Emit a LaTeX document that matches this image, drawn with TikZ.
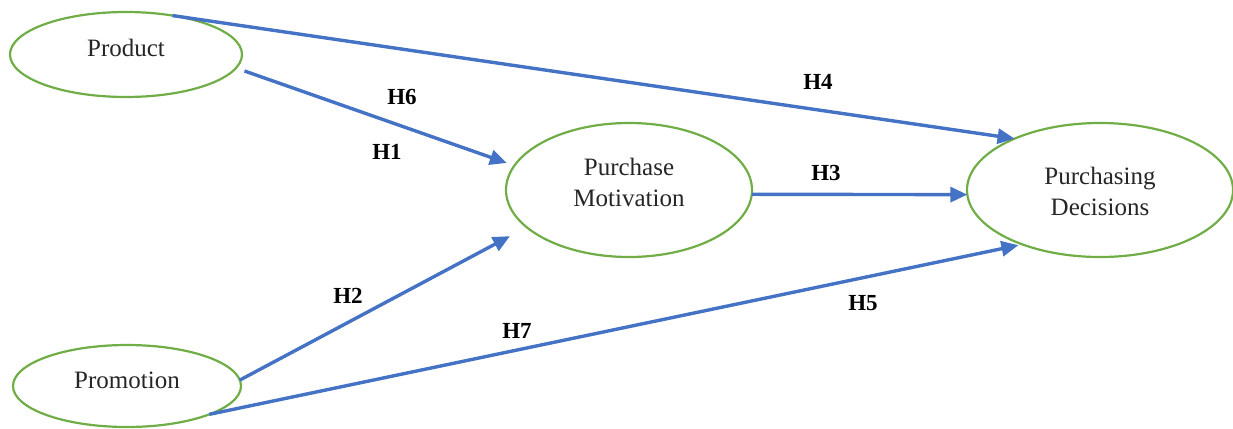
\documentclass[tikz,border=0pt]{standalone}
\usepackage{fontspec}
\setmainfont{Liberation Serif}
\usetikzlibrary{shapes.geometric,arrows.meta}
\definecolor{vgreen}{HTML}{70AD47}
\definecolor{vblue}{HTML}{4472C4}
\tikzset{
  var/.style={ellipse, draw=vgreen, line width=2.2pt, inner sep=0pt, outer sep=0pt},
  vtext/.style={align=center, inner sep=0pt, text=black!85, font=\fontsize{25}{31}\selectfont},
  hyp/.style={draw=vblue, line width=3.4pt, -{Triangle[length=17pt,width=15pt]}},
  lab/.style={inner sep=0pt, font=\bfseries\fontsize{23}{23}\selectfont}
}
\begin{document}
\begin{tikzpicture}[x=1pt,y=-1pt]
\useasboundingbox (0,0) rectangle (1233,428);
% variables
\node[var, minimum width=232pt, minimum height=85pt] (prod) at (126,54.5) {};
\node[var, minimum width=228pt, minimum height=82pt] (prom) at (127,386) {};
\node[var, minimum width=246pt, minimum height=134pt] (pm) at (629,190) {};
\node[var, minimum width=266pt, minimum height=134pt] (pd) at (1100,190) {};
\node[vtext] (prodt) at (126,48) {Product};
\node[vtext] (promt) at (127,380) {Promotion};
\node[vtext] (pmt) at (629,182) {Purchase\\Motivation};
\node[vtext] (pdt) at (1100,191) {Purchasing\\Decisions};
% connectors
\draw[hyp] (prod.40.6) -- (pd.149.8);
\draw[hyp, shorten <=9pt, shorten >=8pt] (prod.-7.4) -- (pm.168.6);
\draw[hyp] (pm.-2.4) -- (pd.182);
\draw[hyp, shorten >=19pt] (prom.3) -- (pm.200.6);
\draw[hyp, shorten >=4pt] (prom.-19.7) -- (pd.215.7);
% labels
\node[lab] (h6) at (402,97) {H6};
\node[lab] (h1) at (387,152) {H1};
\node[lab] (h4) at (818,82) {H4};
\node[lab] (h3) at (826,173) {H3};
\node[lab] (h2) at (348,296) {H2};
\node[lab] (h7) at (517,331) {H7};
\node[lab] (h5) at (863,303) {H5};
\end{tikzpicture}
\end{document}
